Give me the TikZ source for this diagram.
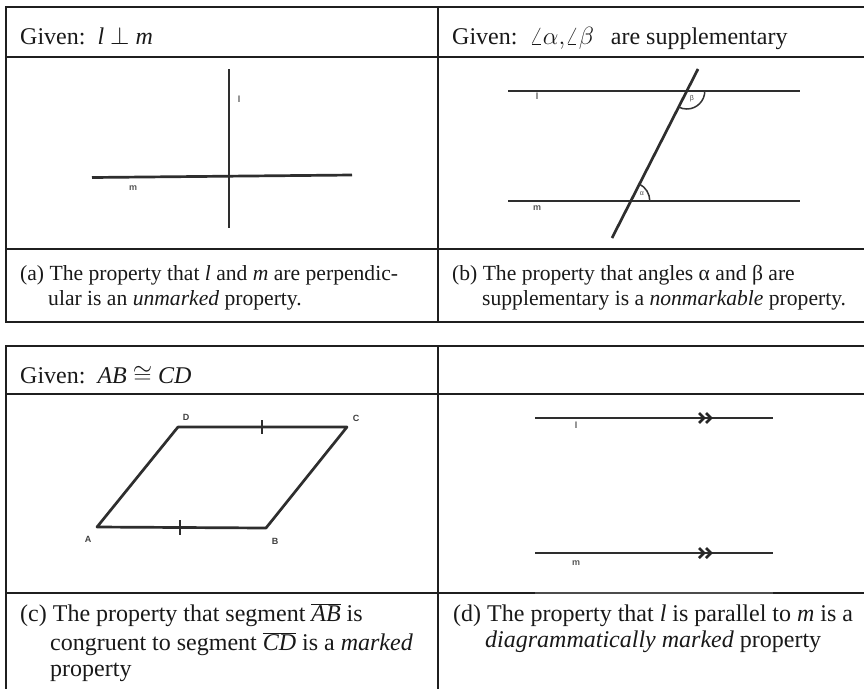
\documentclass[tikz,border=0pt]{standalone}
\usepackage{fontspec}
\setmainfont{Liberation Serif}
\newfontfamily\lblfont{Liberation Sans}
\usetikzlibrary{calc}
\begin{document}
\begin{tikzpicture}[x=1pt,y=-1pt,
  grid/.style={line width=2.4pt, draw=black!88},
  thingrid/.style={line width=1.2pt, draw=black!70},
  fig/.style={line width=2.7pt, draw=black!82},
  tick/.style={line width=2.4pt, draw=black!82},
  txt/.style={anchor=base west, inner sep=0pt, font=\fontsize{21.6}{26}\selectfont, text=black!90},
  txtl/.style={anchor=base west, inner sep=0pt, font=\fontsize{24}{28}\selectfont, text=black!90},
  lbl/.style={inner sep=0pt, font=\lblfont\bfseries\fontsize{9}{10}\selectfont, text=black!65},
  lblb/.style={inner sep=0pt, font=\lblfont\bfseries\fontsize{9}{10}\selectfont, text=black!75},
  glbl/.style={inner sep=0pt, font=\lblfont\fontsize{7}{8}\selectfont, text=black!70},
  ]
\fill[white] (0,0) rectangle (864,689);
\useasboundingbox (0,0) rectangle (864,689);

% ---------- table 1 ----------
\draw[grid] (864,7) -- (6,7) -- (6,322) -- (864,322);
\draw[grid] (6,57) -- (864,57);
\draw[grid] (6,249) -- (864,249);
\draw[grid] (438,7) -- (438,322);

% ---------- table 2 ----------
\draw[grid] (864,346) -- (6,346) -- (6,689);
\draw[grid] (6,394) -- (864,394);
\draw[grid] (6,593) -- (535,593);
\draw[thingrid] (535,593) -- (773,593);
\draw[grid] (773,593) -- (864,593);
\draw[grid] (438,346) -- (438,689);

% ---------- headers ----------
\node[txtl] (ha) at (20,44) {Given:\ \ \textit{l} $\perp$ \textit{m}};
\node[txtl] (hb) at (452,44) {Given:\ \ $\angle\alpha{,}\angle\beta$\hspace{17pt}are supplementary};
\node[txtl] (hc) at (20,383) {Given:\ \ \textit{AB}\ $\cong$\ \textit{CD}};

% ---------- captions ----------
\node[txt] (ca1) at (20,280) {(a) The property that \textit{l} and \textit{m} are perpendic-};
\node[txt] (ca2) at (48,305) {ular is an \textit{unmarked} property.};
\node[txt] (cb1) at (452,280) {(b) The property that angles α and β are};
\node[txt] (cb2) at (482,305) {supplementary is a \textit{nonmarkable} property.};
\node[txtl] (cc1) at (20,621) {(c) The property that segment $\overline{\mbox{\textit{AB}}}$ is};
\node[txtl] (cc2) at (50,650) {congruent to segment $\overline{\mbox{\textit{CD}}}$ is a \textit{marked}};
\node[txtl] (cc3) at (50,676) {property};
\node[txtl] (cd1) at (453,621) {(d) The property that \textit{l} is parallel to \textit{m} is a};
\node[txtl] (cd2) at (485,647) {\textit{diagrammatically marked} property};

% ---------- panel (a) ----------
\coordinate (aT) at (229,69);
\coordinate (aB) at (229,228);
\coordinate (aL) at (92,177.5);
\coordinate (aR) at (352,175);
\draw[fig] (aT) -- (aB);
\draw[fig] (aL) -- (aR);
\node[lbl] (al) at (239,99) {l};
\node[lbl] (am) at (133,188) {m};

% ---------- panel (b) ----------
\coordinate (bl1) at (508,91);
\coordinate (bl2) at (800,91);
\coordinate (bm1) at (508,201);
\coordinate (bm2) at (800,201);
\coordinate (bt1) at (612,238);
\coordinate (bt2) at (698,69);
\coordinate (bX) at (686.8,91);
\coordinate (bY) at (630.8,201);
\draw[fig] (bl1) -- (bl2);
\draw[fig] (bm1) -- (bm2);
\draw[fig] (bt1) -- (bt2);
\draw[line width=1.5pt, draw=black!80] (bX) ++(18,0) arc[start angle=0, end angle=117, radius=18];
\draw[line width=1.5pt, draw=black!80] (bY) ++(19,0) arc[start angle=0, end angle=-63, radius=19];
\node[glbl] (bbeta) at (692,99) {β};
\node[glbl] (balpha) at (642,194) {α};
\node[lbl] (bl) at (537,96) {l};
\node[lbl] (bm) at (537,208) {m};

% ---------- panel (c) ----------
\coordinate (A) at (97,527);
\coordinate (B) at (266,528);
\coordinate (C) at (347,427);
\coordinate (D) at (178,427);
\draw[fig, line join=round] (A) -- (B) -- (C) -- (D) -- cycle;
\draw[tick] (180,520) -- (180,535);
\draw[tick] (262,420) -- (262,434);
\node[lblb] (lA) at (88,539) {A};
\node[lblb] (lB) at (275,541) {B};
\node[lblb] (lC) at (356,418) {C};
\node[lblb] (lD) at (186,417) {D};

% ---------- panel (d) ----------
\coordinate (dl1) at (535,418);
\coordinate (dl2) at (773,418);
\coordinate (dm1) at (535,553);
\coordinate (dm2) at (773,553);
\draw[fig] (dl1) -- (dl2);
\draw[fig] (dm1) -- (dm2);
\foreach \yy in {418,553}{
  \draw[line width=2.6pt, draw=black!85, line join=miter] (699,\yy-5) -- (704,\yy) -- (699,\yy+5);
  \draw[line width=2.6pt, draw=black!85, line join=miter] (706,\yy-5) -- (711,\yy) -- (706,\yy+5);
}
\node[lbl] (dl) at (576,425) {l};
\node[lbl] (dm) at (576,563) {m};
\end{tikzpicture}
\end{document}
